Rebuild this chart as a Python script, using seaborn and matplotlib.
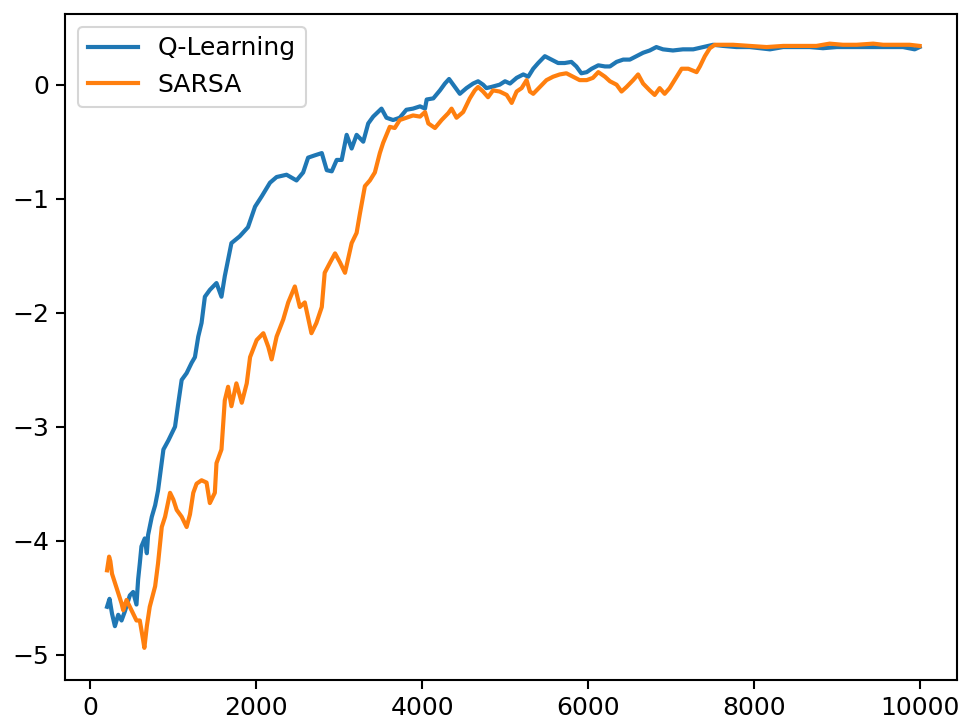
import matplotlib
matplotlib.use("Agg")
import matplotlib.pyplot as plt
import seaborn as sns
import pandas as pd

# Moving-average episode reward per episode, Q-Learning agent
q_episodes = [200, 230, 260, 295, 335, 375, 415, 475, 515, 555, 575, 595, 615, 655, 680,
              695, 740, 780, 815, 880, 940, 1020, 1060, 1100, 1160, 1220, 1260, 1300, 1340,
              1380, 1440, 1520, 1580, 1620, 1700, 1800, 1900, 1985, 2065, 2165, 2245, 2365,
              2485, 2565, 2625, 2705, 2790, 2850, 2910, 2970, 3030, 3090, 3150, 3210, 3290,
              3350, 3410, 3510, 3570, 3650, 3730, 3810, 3890, 3975, 4035, 4055, 4135, 4215,
              4275, 4325, 4395, 4455, 4535, 4615, 4675, 4735, 4775, 4835, 4935, 5000, 5060,
              5140, 5220, 5280, 5340, 5400, 5480, 5560, 5640, 5720, 5800, 5860, 5920, 5985,
              6045, 6125, 6205, 6265, 6345, 6425, 6505, 6585, 6665, 6745, 6825, 6905, 7025,
              7145, 7270, 7390, 7510, 7630, 7790, 7950, 8070, 8195, 8355, 8515, 8675, 8835,
              9000, 9155, 9320, 9480, 9640, 9800, 9940, 10000]
q_reward = [-4.58, -4.51, -4.64, -4.75, -4.65, -4.70, -4.62, -4.48, -4.45, -4.56, -4.34,
            -4.20, -4.05, -3.98, -4.11, -3.95, -3.79, -3.69, -3.56, -3.20, -3.12, -3.00,
            -2.79, -2.59, -2.53, -2.44, -2.39, -2.21, -2.09, -1.86, -1.80, -1.74, -1.86,
            -1.68, -1.39, -1.33, -1.25, -1.07, -0.98, -0.86, -0.81, -0.79, -0.84, -0.77,
            -0.64, -0.62, -0.60, -0.75, -0.76, -0.66, -0.66, -0.44, -0.56, -0.44, -0.50,
            -0.34, -0.28, -0.21, -0.29, -0.31, -0.29, -0.22, -0.21, -0.19, -0.21, -0.13,
            -0.12, -0.05, 0.01, 0.05, -0.02, -0.08, -0.03, 0.01, 0.03, 0.00, -0.03, -0.02,
            0.00, 0.03, 0.01, 0.06, 0.09, 0.07, 0.14, 0.19, 0.25, 0.22, 0.19, 0.19, 0.20,
            0.16, 0.10, 0.11, 0.14, 0.17, 0.16, 0.16, 0.20, 0.22, 0.22, 0.25, 0.28, 0.30,
            0.33, 0.31, 0.30, 0.31, 0.31, 0.33, 0.35, 0.34, 0.33, 0.33, 0.32, 0.31, 0.33,
            0.33, 0.33, 0.32, 0.33, 0.33, 0.33, 0.33, 0.33, 0.33, 0.31, 0.33]

# Moving-average episode reward per episode, SARSA agent
s_episodes = [200, 225, 240, 260, 295, 335, 375, 395, 435, 475, 515, 555, 595, 635, 650,
              680, 715, 780, 815, 860, 900, 960, 1000, 1040, 1100, 1160, 1200, 1240, 1280,
              1340, 1400, 1440, 1500, 1520, 1580, 1620, 1660, 1700, 1760, 1825, 1885, 1925,
              2005, 2085, 2145, 2185, 2245, 2325, 2385, 2465, 2525, 2585, 2665, 2725, 2790,
              2825, 2890, 2950, 3010, 3070, 3150, 3210, 3250, 3310, 3370, 3430, 3490, 3530,
              3610, 3670, 3730, 3810, 3890, 3975, 4035, 4075, 4155, 4235, 4315, 4355, 4415,
              4495, 4575, 4635, 4675, 4735, 4795, 4855, 4935, 5020, 5080, 5140, 5200, 5260,
              5300, 5340, 5420, 5500, 5580, 5660, 5740, 5820, 5900, 5985, 6060, 6125, 6205,
              6265, 6345, 6405, 6465, 6545, 6605, 6665, 6745, 6805, 6865, 6925, 6985, 7070,
              7130, 7210, 7310, 7350, 7410, 7470, 7530, 7750, 7950, 8155, 8355, 8555, 8755,
              8915, 9075, 9240, 9440, 9560, 9720, 9880, 10000]
s_reward = [-4.26, -4.14, -4.18, -4.29, -4.37, -4.46, -4.55, -4.61, -4.52, -4.58, -4.64,
            -4.70, -4.70, -4.87, -4.94, -4.75, -4.58, -4.40, -4.20, -3.88, -3.79, -3.58,
            -3.64, -3.73, -3.79, -3.88, -3.77, -3.58, -3.50, -3.47, -3.49, -3.67, -3.58,
            -3.32, -3.20, -2.77, -2.65, -2.82, -2.62, -2.79, -2.62, -2.39, -2.24, -2.18,
            -2.30, -2.41, -2.21, -2.06, -1.91, -1.77, -1.95, -1.91, -2.18, -2.09, -1.95,
            -1.65, -1.56, -1.48, -1.56, -1.65, -1.39, -1.30, -1.13, -0.89, -0.84, -0.77,
            -0.60, -0.51, -0.37, -0.38, -0.31, -0.29, -0.27, -0.28, -0.24, -0.34, -0.38,
            -0.31, -0.25, -0.21, -0.29, -0.24, -0.12, -0.05, -0.02, -0.06, -0.11, -0.05,
            -0.06, -0.09, -0.16, -0.06, -0.03, 0.04, -0.06, -0.08, -0.02, 0.04, 0.07, 0.09,
            0.10, 0.07, 0.04, 0.04, 0.06, 0.11, 0.07, 0.03, 0.00, -0.06, -0.02, 0.04, 0.09,
            0.01, -0.05, -0.09, -0.03, -0.08, -0.03, 0.07, 0.14, 0.14, 0.11, 0.16, 0.25,
            0.32, 0.35, 0.35, 0.34, 0.33, 0.34, 0.34, 0.34, 0.36, 0.35, 0.35, 0.36, 0.35,
            0.35, 0.35, 0.34]

series_names = ["Q-Learning", "SARSA"]
series_colors = ["#1f77b4", "#ff7f0e"]

q_df = pd.DataFrame({"episode": q_episodes, "reward": q_reward})
s_df = pd.DataFrame({"episode": s_episodes, "reward": s_reward})

plt.rcParams.update({
    "font.size": 12,
    "axes.linewidth": 1.0,
    "xtick.major.size": 4.2,
    "ytick.major.size": 4.2,
    "xtick.major.width": 1.0,
    "ytick.major.width": 1.0,
})

fig = plt.figure(figsize=(6.3934, 4.8), dpi=150)
ax = fig.add_axes([65 / 959, 1 - 680 / 720, (957 - 65) / 959, (680 - 14) / 720])

sns.lineplot(data=q_df, x="episode", y="reward", ax=ax, color=series_colors[0],
             label=series_names[0], estimator=None, linewidth=2.0)
sns.lineplot(data=s_df, x="episode", y="reward", ax=ax, color=series_colors[1],
             label=series_names[1], estimator=None, linewidth=2.0)

ax.set_xlim(-307, 10451)
ax.set_ylim(-5.222, 0.620)
ax.set_xticks([0, 2000, 4000, 6000, 8000, 10000])
ax.set_yticks([-5, -4, -3, -2, -1, 0])
ax.tick_params(labelsize=12)
ax.set_xlabel("")
ax.set_ylabel("")
ax.legend(loc="upper left", fontsize=12)

fig.savefig("out.png", dpi=150)
